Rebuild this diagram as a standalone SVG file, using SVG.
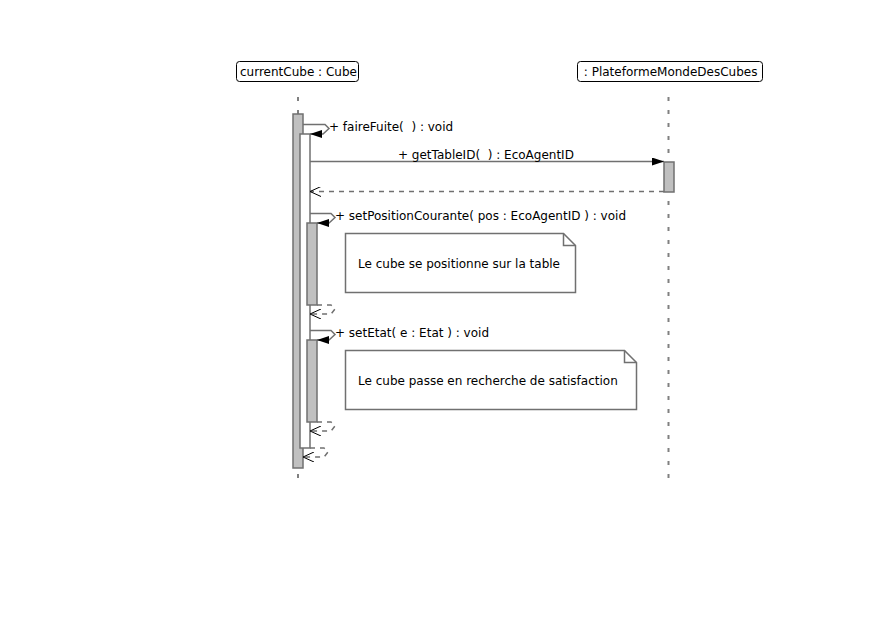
<svg xmlns="http://www.w3.org/2000/svg" width="892" height="619" viewBox="0 0 892 619">
  <defs>
    <style>
      text { font-family: "DejaVu Sans", "Liberation Sans", sans-serif; font-size: 12px; fill: #000; white-space: pre; }
      .head { fill: #fff; stroke: #000; stroke-width: 1; }
      .life { stroke: #808080; stroke-width: 2; stroke-dasharray: 4 9; fill: none; }
      .act { fill: #c0c0c0; stroke: #707070; stroke-width: 1.5; }
      .actw { fill: #fff; stroke: #707070; stroke-width: 1.5; }
      .msg { stroke: #707070; stroke-width: 1.5; fill: none; }
      .ret { stroke: #707070; stroke-width: 1.5; fill: none; stroke-dasharray: 5 5; }
      .note { fill: #fff; stroke: #707070; stroke-width: 1.5; }
    </style>
    <marker id="filled" viewBox="0 0 12 8" refX="12" refY="4" markerWidth="12" markerHeight="8" markerUnits="userSpaceOnUse" orient="auto">
      <path d="M0,0 L12,4 L0,8 Z" fill="#000"/>
    </marker>
    <marker id="open" viewBox="0 0 12 10" refX="11" refY="5" markerWidth="12" markerHeight="10" markerUnits="userSpaceOnUse" orient="auto">
      <path d="M0,0 L11,5 L0,10" fill="none" stroke="#000" stroke-width="1"/>
    </marker>
  </defs>

  <rect width="892" height="619" fill="#fff"/>

  <!-- lifeline: currentCube -->
  <g id="currentCube">
    <rect class="head" x="236.5" y="61.5" width="122" height="20" rx="3"/>
    <text x="240" y="76" xml:space="preserve">currentCube : Cube</text>
    <line class="life" x1="298" y1="97" x2="298" y2="484"/>
    <rect class="act" x="293" y="114" width="10" height="354"/>
    <rect class="actw" x="300" y="134" width="10" height="314"/>
    <rect class="act" x="307" y="223" width="10" height="82"/>
    <rect class="act" x="307" y="340" width="10" height="82"/>
  </g>

  <!-- lifeline: PlateformeMondeDesCubes -->
  <g id="plateforme">
    <rect class="head" x="577.5" y="61.5" width="185" height="20" rx="3"/>
    <text x="580" y="76" xml:space="preserve"> : PlateformeMondeDesCubes</text>
    <line class="life" x1="668.5" y1="97" x2="668.5" y2="484"/>
    <rect class="act" x="664" y="162" width="10" height="30"/>
  </g>

  <!-- notes -->
  <g id="note1">
    <path class="note" d="M345.5,233.5 H563.5 L575.5,245.5 V292.5 H345.5 Z"/>
    <path class="msg" d="M563.5,233.5 V245.5 H575.5"/>
    <text x="358" y="268">Le cube se positionne sur la table</text>
  </g>
  <g id="note2">
    <path class="note" d="M345.5,350.5 H624.5 L636.5,362.5 V409.5 H345.5 Z"/>
    <path class="msg" d="M624.5,350.5 V362.5 H636.5"/>
    <text x="358" y="385">Le cube passe en recherche de satisfaction</text>
  </g>

  <!-- connectors -->
  <g id="connectors">
    <path class="msg" d="M303,124.5 H325 L329,128.5 L323,134 H310" marker-end="url(#filled)"/>
    <line class="msg" x1="310" y1="161.5" x2="664" y2="161.5" marker-end="url(#filled)"/>
    <line class="ret" x1="664" y1="191.5" x2="310" y2="191.5" marker-end="url(#open)"/>
    <path class="msg" d="M310,213.5 H331 L335,217.5 L329,223 H317" marker-end="url(#filled)"/>
    <path class="ret" d="M317,305 H331 L335,309 L331,314 H310" marker-end="url(#open)"/>
    <path class="msg" d="M310,330.5 H331 L335,334.5 L329,340 H317" marker-end="url(#filled)"/>
    <path class="ret" d="M317,422 H331 L335,426 L331,431 H310" marker-end="url(#open)"/>
    <path class="ret" d="M310,448 H324 L328,452 L324,457 H303" marker-end="url(#open)"/>
  </g>

  <!-- message labels -->
  <g id="labels">
    <text x="329" y="131" xml:space="preserve">+ faireFuite(  ) : void</text>
    <text x="398" y="159" xml:space="preserve">+ getTableID(  ) : EcoAgentID</text>
    <text x="335" y="220" xml:space="preserve">+ setPositionCourante( pos : EcoAgentID ) : void</text>
    <text x="335" y="337" xml:space="preserve">+ setEtat( e : Etat ) : void</text>
  </g>
</svg>
